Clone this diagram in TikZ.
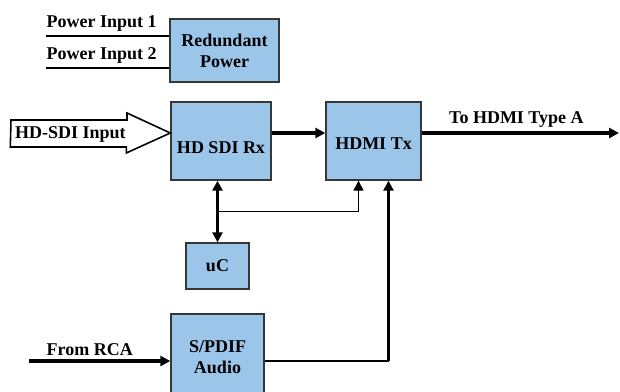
\documentclass[tikz,border=0pt]{standalone}
\usepackage{fontspec}
\setmainfont{Liberation Serif}
\usetikzlibrary{arrows.meta,calc}

\def\headsize{10pt}
\definecolor{blockfill}{RGB}{155,198,234}
\definecolor{blockdraw}{RGB}{55,55,55}

\begin{document}
\begin{tikzpicture}[x=1pt,y=-1pt,
    >={Triangle[length=\headsize,width=\headsize]},
    block/.style={draw=blockdraw, fill=blockfill, line width=1.4pt, align=center, font=\fontsize{18}{21}\selectfont\bfseries},
    tag/.style={font=\fontsize{18}{21}\selectfont\bfseries, inner xsep=0pt, inner ysep=4pt},
    bus/.style={line width=3.2pt, ->},
    wire/.style={line width=1.4pt}
    ]
    \useasboundingbox (0,0) rectangle (620,391);

    % Define blocks
    \node[block, minimum width=109, minimum height=63] (pwr) at (224.5,50.5) {Redundant\\Power};
    \node[block, minimum width=100, minimum height=78, text height=24pt, text depth=0pt] (rx) at (221,141) {HD SDI Rx};
    \node[block, minimum width=95, minimum height=78, text height=16pt, text depth=0pt] (tx) at (373.5,141) {HDMI Tx};
    \node[block, minimum width=63, minimum height=46] (uc) at (217.5,266) {uC};
    \node[block, minimum width=93, minimum height=86] (spdif) at (217.5,357) {S/PDIF\\Audio};

    % Define free ends
    \coordinate (pin1) at (46,36);
    \coordinate (pin2) at (46,68);
    \coordinate (sdi) at (11,133);
    \coordinate (hdmi) at (619,133);
    \coordinate (rca) at (29,361);
    \coordinate (rxin) at (rx.west |- sdi);
    \coordinate (txin1) at ($(tx.south)+(-15,0)$);
    \coordinate (txin2) at ($(tx.south)+(15,0)$);
    \coordinate (tap) at ($(uc.north)!0.5!(uc.north |- rx.south)$);
    \coordinate (corner) at (txin2 |- rca);

    % Power inputs
    \draw[wire] (pin1) -- (pin1 -| pwr.west) node[pos=0, anchor=south west, tag] {Power Input 1};
    \draw[wire] (pin2) -- (pin2 -| pwr.west) node[pos=0, anchor=south west, tag] {Power Input 2};

    % HD-SDI input arrow
    \draw[line width=1.6pt, fill=white] (sdi) ++(0,-13) -- ++(116,0) -- ++(0,-7) -- (rxin)
        -- ++(-44,20) -- ++(0,-6) -- ++(-116,0) -- cycle;
    \node[tag, anchor=west] (sditext) at (15,134) {HD-SDI Input};

    % Video path
    \draw[bus] (rx.east |- sdi) -- (tx.west |- sdi);
    \draw[bus] (tx.east |- hdmi) -- (hdmi) node[pos=0.48, above, tag] {To HDMI Type A};

    % Control
    \draw[bus, <->] (uc.north) -- (uc.north |- rx.south);
    \draw[wire, ->] (tap) -| (txin1);

    % Audio path
    \draw[bus] (rca) -- (rca -| spdif.west) node[pos=0.43, above, tag] {From RCA};
    \draw[wire] (spdif.east |- rca) -- (corner);
    \draw[bus] (corner) -- (txin2);
\end{tikzpicture}
\end{document}
